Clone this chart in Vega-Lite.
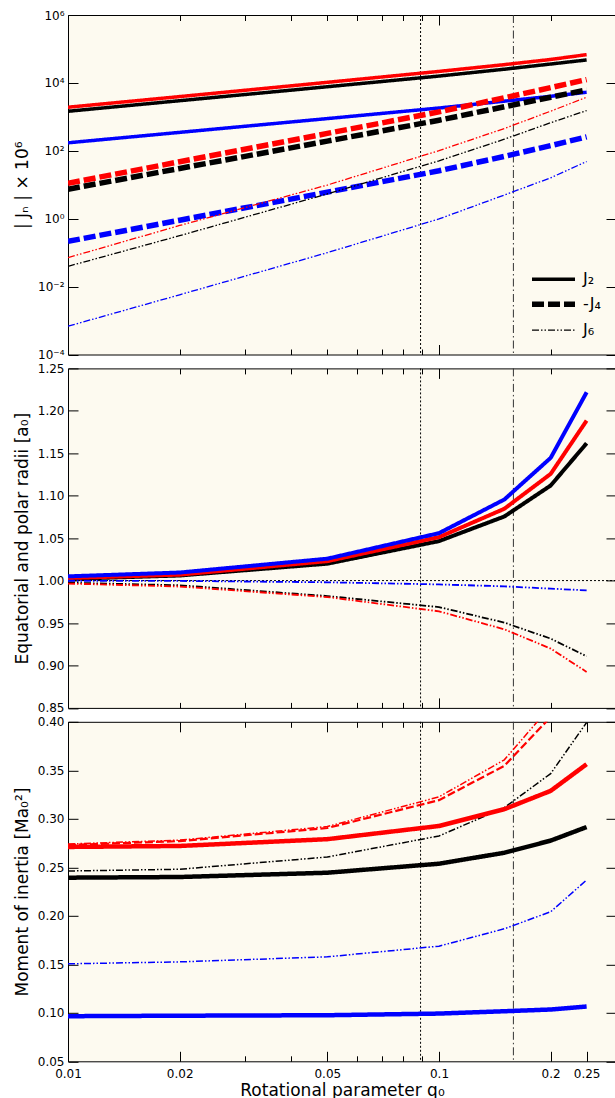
{
  "$schema": "https://vega.github.io/schema/vega-lite/v6.json",
  "background": "white",
  "padding": {"left": 13, "top": 8, "right": 0, "bottom": 0},
  "spacing": 13.4,
  "bounds": "flush",
  "datasets": {
    "vlines": [{"q": 0.0892, "kind": "dotted"}, {"q": 0.1587, "kind": "dashdot"}],
    "hline": [{"r": 1.0}],
    "top": [
      {"q": 0.01, "v": 1460, "m": "M2", "k": "J₂"}, {"q": 0.02, "v": 2990, "m": "M2", "k": "J₂"}, {"q": 0.05, "v": 7710, "m": "M2", "k": "J₂"}, {"q": 0.1, "v": 15900, "m": "M2", "k": "J₂"}, {"q": 0.15, "v": 25300, "m": "M2", "k": "J₂"}, {"q": 0.2, "v": 36000, "m": "M2", "k": "J₂"}, {"q": 0.25, "v": 47400, "m": "M2", "k": "J₂"},
      {"q": 0.01, "v": 1920, "m": "M1", "k": "J₂"}, {"q": 0.02, "v": 3950, "m": "M1", "k": "J₂"}, {"q": 0.05, "v": 10400, "m": "M1", "k": "J₂"}, {"q": 0.1, "v": 21800, "m": "M1", "k": "J₂"}, {"q": 0.15, "v": 34500, "m": "M1", "k": "J₂"}, {"q": 0.2, "v": 49000, "m": "M1", "k": "J₂"}, {"q": 0.25, "v": 68000, "m": "M1", "k": "J₂"},
      {"q": 0.01, "v": 172, "m": "M3", "k": "J₂"}, {"q": 0.02, "v": 349, "m": "M3", "k": "J₂"}, {"q": 0.05, "v": 889, "m": "M3", "k": "J₂"}, {"q": 0.1, "v": 1820, "m": "M3", "k": "J₂"}, {"q": 0.15, "v": 2900, "m": "M3", "k": "J₂"}, {"q": 0.2, "v": 4030, "m": "M3", "k": "J₂"}, {"q": 0.25, "v": 5300, "m": "M3", "k": "J₂"},
      {"q": 0.01, "v": 7.4, "m": "M2", "k": "-J₄"}, {"q": 0.02, "v": 30.2, "m": "M2", "k": "-J₄"}, {"q": 0.05, "v": 193, "m": "M2", "k": "-J₄"}, {"q": 0.1, "v": 796, "m": "M2", "k": "-J₄"}, {"q": 0.15, "v": 1980, "m": "M2", "k": "-J₄"}, {"q": 0.2, "v": 3790, "m": "M2", "k": "-J₄"}, {"q": 0.25, "v": 6220, "m": "M2", "k": "-J₄"},
      {"q": 0.01, "v": 11.1, "m": "M1", "k": "-J₄"}, {"q": 0.02, "v": 47.6, "m": "M1", "k": "-J₄"}, {"q": 0.05, "v": 325, "m": "M1", "k": "-J₄"}, {"q": 0.1, "v": 1400, "m": "M1", "k": "-J₄"}, {"q": 0.15, "v": 3640, "m": "M1", "k": "-J₄"}, {"q": 0.2, "v": 7240, "m": "M1", "k": "-J₄"}, {"q": 0.25, "v": 12500, "m": "M1", "k": "-J₄"},
      {"q": 0.01, "v": 0.215, "m": "M3", "k": "-J₄"}, {"q": 0.02, "v": 0.903, "m": "M3", "k": "-J₄"}, {"q": 0.05, "v": 6.05, "m": "M3", "k": "-J₄"}, {"q": 0.1, "v": 25.8, "m": "M3", "k": "-J₄"}, {"q": 0.15, "v": 68.2, "m": "M3", "k": "-J₄"}, {"q": 0.2, "v": 142, "m": "M3", "k": "-J₄"}, {"q": 0.25, "v": 258, "m": "M3", "k": "-J₄"},
      {"q": 0.01, "v": 0.0395, "m": "M2", "k": "J₆"}, {"q": 0.02, "v": 0.316, "m": "M2", "k": "J₆"}, {"q": 0.05, "v": 5.36, "m": "M2", "k": "J₆"}, {"q": 0.1, "v": 50.8, "m": "M2", "k": "J₆"}, {"q": 0.15, "v": 219, "m": "M2", "k": "J₆"}, {"q": 0.2, "v": 673, "m": "M2", "k": "J₆"}, {"q": 0.25, "v": 1530, "m": "M2", "k": "J₆"},
      {"q": 0.01, "v": 0.0713, "m": "M1", "k": "J₆"}, {"q": 0.02, "v": 0.631, "m": "M1", "k": "J₆"}, {"q": 0.05, "v": 9.8, "m": "M1", "k": "J₆"}, {"q": 0.1, "v": 101, "m": "M1", "k": "J₆"}, {"q": 0.15, "v": 453, "m": "M1", "k": "J₆"}, {"q": 0.2, "v": 1470, "m": "M1", "k": "J₆"}, {"q": 0.25, "v": 3770, "m": "M1", "k": "J₆"},
      {"q": 0.01, "v": 0.00068, "m": "M3", "k": "J₆"}, {"q": 0.02, "v": 0.00575, "m": "M3", "k": "J₆"}, {"q": 0.05, "v": 0.0998, "m": "M3", "k": "J₆"}, {"q": 0.1, "v": 0.984, "m": "M3", "k": "J₆"}, {"q": 0.15, "v": 4.98, "m": "M3", "k": "J₆"}, {"q": 0.2, "v": 16, "m": "M3", "k": "J₆"}, {"q": 0.25, "v": 48.4, "m": "M3", "k": "J₆"}
    ],
    "mid": [
      {"q": 0.01, "v": 1.002, "m": "M2", "k": "equatorial"}, {"q": 0.02, "v": 1.006, "m": "M2", "k": "equatorial"}, {"q": 0.05, "v": 1.0199, "m": "M2", "k": "equatorial"}, {"q": 0.1, "v": 1.0465, "m": "M2", "k": "equatorial"}, {"q": 0.15, "v": 1.0755, "m": "M2", "k": "equatorial"}, {"q": 0.2, "v": 1.112, "m": "M2", "k": "equatorial"}, {"q": 0.25, "v": 1.1618, "m": "M2", "k": "equatorial"},
      {"q": 0.01, "v": 1.003, "m": "M1", "k": "equatorial"}, {"q": 0.02, "v": 1.007, "m": "M1", "k": "equatorial"}, {"q": 0.05, "v": 1.0229, "m": "M1", "k": "equatorial"}, {"q": 0.1, "v": 1.0512, "m": "M1", "k": "equatorial"}, {"q": 0.15, "v": 1.0846, "m": "M1", "k": "equatorial"}, {"q": 0.2, "v": 1.1257, "m": "M1", "k": "equatorial"}, {"q": 0.25, "v": 1.1885, "m": "M1", "k": "equatorial"},
      {"q": 0.01, "v": 1.005, "m": "M3", "k": "equatorial"}, {"q": 0.02, "v": 1.0095, "m": "M3", "k": "equatorial"}, {"q": 0.05, "v": 1.0258, "m": "M3", "k": "equatorial"}, {"q": 0.1, "v": 1.0559, "m": "M3", "k": "equatorial"}, {"q": 0.15, "v": 1.0955, "m": "M3", "k": "equatorial"}, {"q": 0.2, "v": 1.1446, "m": "M3", "k": "equatorial"}, {"q": 0.25, "v": 1.2218, "m": "M3", "k": "equatorial"},
      {"q": 0.01, "v": 0.9975, "m": "M2", "k": "polar"}, {"q": 0.02, "v": 0.9945, "m": "M2", "k": "polar"}, {"q": 0.05, "v": 0.9818, "m": "M2", "k": "polar"}, {"q": 0.1, "v": 0.9688, "m": "M2", "k": "polar"}, {"q": 0.15, "v": 0.9505, "m": "M2", "k": "polar"}, {"q": 0.2, "v": 0.9316, "m": "M2", "k": "polar"}, {"q": 0.25, "v": 0.9108, "m": "M2", "k": "polar"},
      {"q": 0.01, "v": 0.9965, "m": "M1", "k": "polar"}, {"q": 0.02, "v": 0.993, "m": "M1", "k": "polar"}, {"q": 0.05, "v": 0.9806, "m": "M1", "k": "polar"}, {"q": 0.1, "v": 0.9638, "m": "M1", "k": "polar"}, {"q": 0.15, "v": 0.9426, "m": "M1", "k": "polar"}, {"q": 0.2, "v": 0.9199, "m": "M1", "k": "polar"}, {"q": 0.25, "v": 0.8924, "m": "M1", "k": "polar"},
      {"q": 0.01, "v": 0.9998, "m": "M3", "k": "polar"}, {"q": 0.02, "v": 0.9996, "m": "M3", "k": "polar"}, {"q": 0.05, "v": 0.998, "m": "M3", "k": "polar"}, {"q": 0.1, "v": 0.9955, "m": "M3", "k": "polar"}, {"q": 0.15, "v": 0.9932, "m": "M3", "k": "polar"}, {"q": 0.2, "v": 0.9905, "m": "M3", "k": "polar"}, {"q": 0.25, "v": 0.9885, "m": "M3", "k": "polar"}
    ],
    "bot": [
      {"q": 0.01, "v": 0.2393, "m": "M2", "k": "solid"}, {"q": 0.02, "v": 0.24, "m": "M2", "k": "solid"}, {"q": 0.05, "v": 0.2444, "m": "M2", "k": "solid"}, {"q": 0.1, "v": 0.2537, "m": "M2", "k": "solid"}, {"q": 0.15, "v": 0.265, "m": "M2", "k": "solid"}, {"q": 0.2, "v": 0.2775, "m": "M2", "k": "solid"}, {"q": 0.25, "v": 0.2915, "m": "M2", "k": "solid"},
      {"q": 0.01, "v": 0.2462, "m": "M2", "k": "dashdot"}, {"q": 0.02, "v": 0.248, "m": "M2", "k": "dashdot"}, {"q": 0.05, "v": 0.2606, "m": "M2", "k": "dashdot"}, {"q": 0.1, "v": 0.2823, "m": "M2", "k": "dashdot"}, {"q": 0.15, "v": 0.3115, "m": "M2", "k": "dashdot"}, {"q": 0.2, "v": 0.3466, "m": "M2", "k": "dashdot"}, {"q": 0.25, "v": 0.3993, "m": "M2", "k": "dashdot"},
      {"q": 0.01, "v": 0.271, "m": "M1", "k": "solid"}, {"q": 0.02, "v": 0.272, "m": "M1", "k": "solid"}, {"q": 0.05, "v": 0.279, "m": "M1", "k": "solid"}, {"q": 0.1, "v": 0.2926, "m": "M1", "k": "solid"}, {"q": 0.15, "v": 0.3099, "m": "M1", "k": "solid"}, {"q": 0.2, "v": 0.3288, "m": "M1", "k": "solid"}, {"q": 0.25, "v": 0.3563, "m": "M1", "k": "solid"},
      {"q": 0.01, "v": 0.273, "m": "M1", "k": "dashed"}, {"q": 0.02, "v": 0.277, "m": "M1", "k": "dashed"}, {"q": 0.05, "v": 0.2905, "m": "M1", "k": "dashed"}, {"q": 0.1, "v": 0.3192, "m": "M1", "k": "dashed"}, {"q": 0.15, "v": 0.3546, "m": "M1", "k": "dashed"}, {"q": 0.2, "v": 0.405, "m": "M1", "k": "dashed"}, {"q": 0.25, "v": 0.47, "m": "M1", "k": "dashed"},
      {"q": 0.01, "v": 0.274, "m": "M1", "k": "dashdot"}, {"q": 0.02, "v": 0.278, "m": "M1", "k": "dashdot"}, {"q": 0.05, "v": 0.292, "m": "M1", "k": "dashdot"}, {"q": 0.1, "v": 0.3226, "m": "M1", "k": "dashdot"}, {"q": 0.15, "v": 0.3608, "m": "M1", "k": "dashdot"}, {"q": 0.2, "v": 0.416, "m": "M1", "k": "dashdot"}, {"q": 0.25, "v": 0.49, "m": "M1", "k": "dashdot"},
      {"q": 0.01, "v": 0.0965, "m": "M3", "k": "solid"}, {"q": 0.02, "v": 0.097, "m": "M3", "k": "solid"}, {"q": 0.05, "v": 0.0975, "m": "M3", "k": "solid"}, {"q": 0.1, "v": 0.0992, "m": "M3", "k": "solid"}, {"q": 0.15, "v": 0.1016, "m": "M3", "k": "solid"}, {"q": 0.2, "v": 0.1034, "m": "M3", "k": "solid"}, {"q": 0.25, "v": 0.1065, "m": "M3", "k": "solid"},
      {"q": 0.01, "v": 0.1505, "m": "M3", "k": "dashdot"}, {"q": 0.02, "v": 0.1525, "m": "M3", "k": "dashdot"}, {"q": 0.05, "v": 0.1577, "m": "M3", "k": "dashdot"}, {"q": 0.1, "v": 0.1687, "m": "M3", "k": "dashdot"}, {"q": 0.15, "v": 0.1866, "m": "M3", "k": "dashdot"}, {"q": 0.2, "v": 0.2042, "m": "M3", "k": "dashdot"}, {"q": 0.25, "v": 0.2369, "m": "M3", "k": "dashdot"}
    ]
  },
  "vconcat": [
    {
      "width": 548, "height": 339.5,
      "layer": [
        {"data": {"name": "vlines"}, "transform": [{"filter": "datum.kind == 'dotted'"}], "mark": {"type": "rule", "strokeDash": [2, 2], "strokeWidth": 1, "color": "black"}, "encoding": {"x": {"field": "q", "type": "quantitative", "scale": {"type": "log", "domain": [0.01, 0.3], "nice": false}, "axis": null}}},
        {"data": {"name": "vlines"}, "transform": [{"filter": "datum.kind == 'dashdot'"}], "mark": {"type": "rule", "strokeDash": [8, 3, 1.5, 3], "strokeWidth": 1, "color": "#333333"}, "encoding": {"x": {"field": "q", "type": "quantitative", "axis": null}}},
        {"data": {"name": "top"}, "mark": {"type": "line", "clip": true},
         "encoding": {
           "x": {"field": "q", "type": "quantitative", "axis": {"orient": "bottom", "values": [0.01, 0.1], "tickSize": -10, "labels": false, "title": null}},
           "y": {"field": "v", "type": "quantitative", "scale": {"type": "log", "domain": [0.0001, 1000000], "nice": false},
                 "axis": {"orient": "left", "values": [0.0001, 0.01, 1, 100, 10000, 1000000], "tickSize": -10, "labelPadding": 14,
                          "labelExpr": "datum.value < 0.001 ? '10⁻⁴' : datum.value < 0.1 ? '10⁻²' : datum.value < 10 ? '10⁰' : datum.value < 1000 ? '10²' : datum.value < 100000 ? '10⁴' : '10⁶'",
                          "title": "| Jₙ | × 10⁶", "titleX": -45.5, "titleBaseline": "middle"}},
           "color": {"field": "m", "type": "nominal", "scale": {"domain": ["M1", "M2", "M3"], "range": ["#ff0000", "#000000", "#0000ff"]}, "legend": null},
           "strokeDash": {"field": "k", "type": "nominal", "scale": {"domain": ["J₂", "-J₄", "J₆"], "range": [[1, 0], [12, 4], [7, 2, 1.5, 2, 1.5, 2]]},
                          "legend": {"orient": "none", "legendX": 472, "legendY": 251.7, "title": null, "symbolType": "M-2,0H2", "symbolSize": 462, "symbolStrokeColor": "black", "labelFont": "DejaVu Sans", "labelFontSize": 16, "labelColor": "black", "labelOffset": 16, "rowPadding": 3, "padding": 0}},
           "strokeWidth": {"field": "k", "type": "nominal", "scale": {"type": "ordinal", "domain": ["J₂", "-J₄", "J₆"], "range": [3.5, 5.5, 1.3]},
                          "legend": {"orient": "none", "legendX": 472, "legendY": 251.7, "title": null, "symbolType": "M-2,0H2", "symbolSize": 462, "symbolStrokeColor": "black", "labelFont": "DejaVu Sans", "labelFontSize": 16, "labelColor": "black", "labelOffset": 16, "rowPadding": 3, "padding": 0}}
         }},
        {"data": {"name": "top"}, "mark": {"type": "point", "opacity": 0},
         "encoding": {
           "x": {"field": "q", "type": "quantitative", "axis": {"orient": "top", "values": [0.01, 0.1], "tickSize": -10, "labels": false, "title": null}},
           "y": {"field": "v", "type": "quantitative", "axis": {"orient": "right", "values": [0.0001, 0.01, 1, 100, 10000, 1000000], "tickSize": -10, "labels": false, "title": null}}
         }},
        {"data": {"name": "top"}, "mark": {"type": "point", "opacity": 0},
         "encoding": {
           "x": {"field": "q", "type": "quantitative", "axis": {"orient": "bottom", "values": [0.02, 0.03, 0.04, 0.05, 0.06, 0.07, 0.08, 0.09, 0.2, 0.3], "tickSize": -5.5, "labels": false, "title": null}},
           "y": {"field": "v", "type": "quantitative", "axis": null}
         }},
        {"data": {"name": "top"}, "mark": {"type": "point", "opacity": 0},
         "encoding": {
           "x": {"field": "q", "type": "quantitative", "axis": {"orient": "top", "values": [0.02, 0.03, 0.04, 0.05, 0.06, 0.07, 0.08, 0.09, 0.2, 0.3], "tickSize": -5.5, "labels": false, "title": null}},
           "y": {"field": "v", "type": "quantitative", "axis": null}
         }}
      ],
      "resolve": {"axis": {"x": "independent", "y": "independent"}}
    },
    {
      "width": 548, "height": 339.5,
      "layer": [
        {"data": {"name": "vlines"}, "transform": [{"filter": "datum.kind == 'dotted'"}], "mark": {"type": "rule", "strokeDash": [2, 2], "strokeWidth": 1, "color": "black"}, "encoding": {"x": {"field": "q", "type": "quantitative", "scale": {"type": "log", "domain": [0.01, 0.3], "nice": false}, "axis": null}}},
        {"data": {"name": "vlines"}, "transform": [{"filter": "datum.kind == 'dashdot'"}], "mark": {"type": "rule", "strokeDash": [8, 3, 1.5, 3], "strokeWidth": 1, "color": "#333333"}, "encoding": {"x": {"field": "q", "type": "quantitative", "axis": null}}},
        {"data": {"name": "hline"}, "mark": {"type": "rule", "strokeDash": [2, 2], "strokeWidth": 1, "color": "black"}, "encoding": {"y": {"field": "r", "type": "quantitative", "scale": {"domain": [0.85, 1.25], "nice": false, "zero": false}, "axis": null}}},
        {"data": {"name": "mid"}, "mark": {"type": "line", "clip": true},
         "encoding": {
           "x": {"field": "q", "type": "quantitative", "axis": {"orient": "bottom", "values": [0.01, 0.1], "tickSize": -10, "labels": false, "title": null}},
           "y": {"field": "v", "type": "quantitative",
                 "axis": {"orient": "left", "values": [0.85, 0.9, 0.95, 1.0, 1.05, 1.1, 1.15, 1.2, 1.25], "format": ".2f", "tickSize": -10, "labelPadding": 14,
                          "title": "Equatorial and polar radii [a₀]", "titleX": -45.5, "titleBaseline": "middle"}},
           "color": {"field": "m", "type": "nominal", "scale": {"domain": ["M1", "M2", "M3"], "range": ["#ff0000", "#000000", "#0000ff"]}, "legend": null},
           "strokeDash": {"field": "k", "type": "nominal", "scale": {"domain": ["equatorial", "polar"], "range": [[1, 0], [7, 2, 1.5, 2, 1.5, 2]]}, "legend": null},
           "strokeWidth": {"field": "k", "type": "nominal", "scale": {"type": "ordinal", "domain": ["equatorial", "polar"], "range": [4, 1.8]}, "legend": null}
         }},
        {"data": {"name": "mid"}, "mark": {"type": "point", "opacity": 0},
         "encoding": {
           "x": {"field": "q", "type": "quantitative", "axis": {"orient": "top", "values": [0.01, 0.1], "tickSize": -10, "labels": false, "title": null}},
           "y": {"field": "v", "type": "quantitative", "axis": {"orient": "right", "values": [0.85, 0.9, 0.95, 1.0, 1.05, 1.1, 1.15, 1.2, 1.25], "tickSize": -10, "labels": false, "title": null}}
         }},
        {"data": {"name": "mid"}, "mark": {"type": "point", "opacity": 0},
         "encoding": {
           "x": {"field": "q", "type": "quantitative", "axis": {"orient": "bottom", "values": [0.02, 0.03, 0.04, 0.05, 0.06, 0.07, 0.08, 0.09, 0.2, 0.3], "tickSize": -5.5, "labels": false, "title": null}},
           "y": {"field": "v", "type": "quantitative", "axis": null}
         }},
        {"data": {"name": "mid"}, "mark": {"type": "point", "opacity": 0},
         "encoding": {
           "x": {"field": "q", "type": "quantitative", "axis": {"orient": "top", "values": [0.02, 0.03, 0.04, 0.05, 0.06, 0.07, 0.08, 0.09, 0.2, 0.3], "tickSize": -5.5, "labels": false, "title": null}},
           "y": {"field": "v", "type": "quantitative", "axis": null}
         }}
      ],
      "resolve": {"axis": {"x": "independent", "y": "independent"}}
    },
    {
      "width": 548, "height": 339.5,
      "layer": [
        {"data": {"name": "vlines"}, "transform": [{"filter": "datum.kind == 'dotted'"}], "mark": {"type": "rule", "strokeDash": [2, 2], "strokeWidth": 1, "color": "black"}, "encoding": {"x": {"field": "q", "type": "quantitative", "scale": {"type": "log", "domain": [0.01, 0.3], "nice": false}, "axis": null}}},
        {"data": {"name": "vlines"}, "transform": [{"filter": "datum.kind == 'dashdot'"}], "mark": {"type": "rule", "strokeDash": [8, 3, 1.5, 3], "strokeWidth": 1, "color": "#333333"}, "encoding": {"x": {"field": "q", "type": "quantitative", "axis": null}}},
        {"data": {"name": "bot"}, "mark": {"type": "line", "clip": true},
         "encoding": {
           "x": {"field": "q", "type": "quantitative", "axis": {"orient": "bottom", "values": [0.01, 0.02, 0.05, 0.1, 0.2, 0.25], "format": "~g", "tickSize": -10, "labelPadding": 17,
                 "title": "Rotational parameter q₀", "titleY": 34, "titleBaseline": "alphabetic", "titleFontSize": 17}},
           "y": {"field": "v", "type": "quantitative", "scale": {"domain": [0.05, 0.4], "nice": false, "zero": false},
                 "axis": {"orient": "left", "values": [0.05, 0.1, 0.15, 0.2, 0.25, 0.3, 0.35, 0.4], "format": ".2f", "tickSize": -10, "labelPadding": 14,
                          "title": "Moment of inertia [Ma₀²]", "titleX": -45.5, "titleBaseline": "middle"}},
           "color": {"field": "m", "type": "nominal", "scale": {"domain": ["M1", "M2", "M3"], "range": ["#ff0000", "#000000", "#0000ff"]}, "legend": null},
           "strokeDash": {"field": "k", "type": "nominal", "scale": {"domain": ["solid", "dashed", "dashdot"], "range": [[1, 0], [8, 3], [7, 2, 1.5, 2, 1.5, 2]]}, "legend": null},
           "strokeWidth": {"field": "k", "type": "nominal", "scale": {"type": "ordinal", "domain": ["solid", "dashed", "dashdot"], "range": [4.5, 2.2, 1.5]}, "legend": null}
         }},
        {"data": {"name": "bot"}, "mark": {"type": "point", "opacity": 0},
         "encoding": {
           "x": {"field": "q", "type": "quantitative", "axis": {"orient": "top", "values": [0.01, 0.02, 0.05, 0.1, 0.2, 0.25], "tickSize": -10, "labels": false, "title": null}},
           "y": {"field": "v", "type": "quantitative", "axis": {"orient": "right", "values": [0.05, 0.1, 0.15, 0.2, 0.25, 0.3, 0.35, 0.4], "tickSize": -10, "labels": false, "title": null}}
         }},
        {"data": {"name": "bot"}, "mark": {"type": "point", "opacity": 0},
         "encoding": {
           "x": {"field": "q", "type": "quantitative", "axis": {"orient": "bottom", "values": [0.03, 0.04, 0.06, 0.07, 0.08, 0.09, 0.3], "tickSize": -5.5, "labels": false, "title": null}},
           "y": {"field": "v", "type": "quantitative", "axis": null}
         }},
        {"data": {"name": "bot"}, "mark": {"type": "point", "opacity": 0},
         "encoding": {
           "x": {"field": "q", "type": "quantitative", "axis": {"orient": "top", "values": [0.03, 0.04, 0.06, 0.07, 0.08, 0.09, 0.3], "tickSize": -5.5, "labels": false, "title": null}},
           "y": {"field": "v", "type": "quantitative", "axis": null}
         }}
      ],
      "resolve": {"axis": {"x": "independent", "y": "independent"}}
    }
  ],
  "resolve": {
    "scale": {"x": "independent", "y": "independent", "strokeDash": "independent", "strokeWidth": "independent", "color": "shared"},
    "legend": {"strokeDash": "independent", "strokeWidth": "independent", "color": "independent"}
  },
  "config": {
    "font": "DejaVu Sans",
    "view": {"stroke": "black", "strokeWidth": 1, "fill": "#fdfaf0"},
    "axis": {
      "labelFont": "DejaVu Sans", "labelFontSize": 12, "labelColor": "black",
      "titleFont": "DejaVu Sans", "titleFontSize": 17, "titleFontWeight": "normal", "titleColor": "black",
      "tickColor": "black", "tickWidth": 1, "domain": false, "grid": false,
      "labelFlush": false, "labelOverlap": false
    }
  }
}
